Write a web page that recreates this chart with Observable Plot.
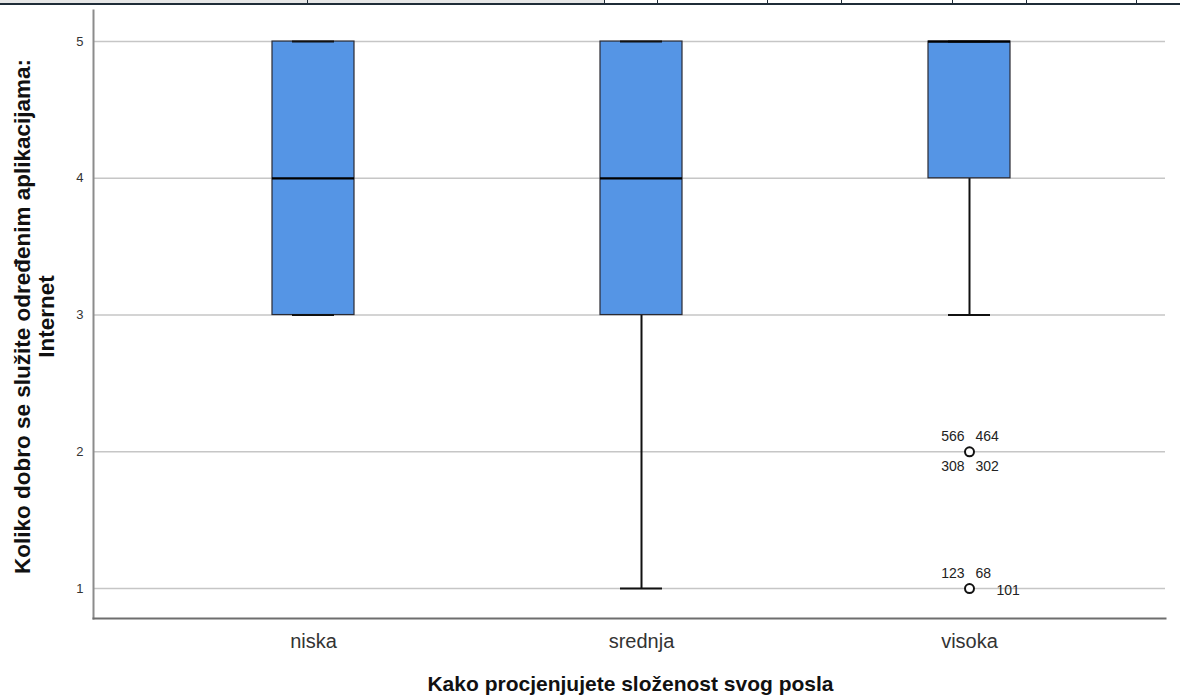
<!DOCTYPE html>
<html>
<head>
<meta charset="utf-8">
<script src="https://cdn.jsdelivr.net/npm/d3@7"></script>
<script src="https://cdn.jsdelivr.net/npm/@observablehq/plot@0.6"></script>
<style>
  html, body { margin: 0; padding: 0; background: #fff; }
  body { font-family: "Liberation Sans", Arial, sans-serif; position: relative; width: 1180px; height: 699px; overflow: hidden; }
  #strip { position: absolute; left: 0; top: 0; width: 1180px; height: 3px; border-bottom: 2px solid #1f2c38; }
  #strip .gray { position: absolute; left: 0; top: 0; width: 604px; height: 3px; background: #e6e6e6; }
  #strip .sep { position: absolute; top: 0; width: 1px; height: 3px; background: #1f2c38; }
  #chart { position: absolute; left: 0; top: 0; }
</style>
</head>
<body>
<div id="chart"></div>
<div id="strip"><div class="gray"></div></div>
<script>
// ---- data ----
const groups = ["niska", "srednja", "visoka"];
const q1 = [3, 3, 4];
const medians = [4, 4, 5];
const q3 = [5, 5, 5];
const whiskerLow = [3, 1, 3];
const whiskerHigh = [5, 5, 5];
const outlierGroups = ["visoka", "visoka"];
const outlierValues = [2, 1];
const labelIds = ["566", "464", "308", "302", "123", "68", "101"];
const labelValues = [2, 2, 2, 2, 1, 1, 1];
const labelPlaces = ["nw", "ne", "sw", "se", "nw", "ne", "e"];
const yTicks = [1, 2, 3, 4, 5];
const xTitle = "Kako procjenjujete složenost svog posla";
const yTitle = "Koliko dobro se služite određenim aplikacijama:\nInternet";
const stripSeparators = [307, 604, 657, 767, 841, 952, 1026, 1136];

// decorative cropped-table strip at top
const strip = document.getElementById("strip");
stripSeparators.forEach(x => {
  const d = document.createElement("div");
  d.className = "sep"; d.style.left = x + "px"; strip.appendChild(d);
});

const boxes = groups.map((g, i) => ({
  group: g, q1: q1[i], median: medians[i], q3: q3[i], lo: whiskerLow[i], hi: whiskerHigh[i]
}));
const outliers = outlierGroups.map((g, i) => ({group: g, value: outlierValues[i]}));
const labels = labelIds.map((id, i) => ({group: "visoka", value: labelValues[i], id, place: labelPlaces[i]}));

const placeStyle = {
  nw: {dx: -5, dy: -15, textAnchor: "end"},
  ne: {dx: 6, dy: -15, textAnchor: "start"},
  sw: {dx: -5, dy: 15, textAnchor: "end"},
  se: {dx: 6, dy: 15, textAnchor: "start"},
  e: {dx: 27, dy: 2, textAnchor: "start"}
};

const labelMarks = Object.entries(placeStyle).map(([p, s]) =>
  Plot.text(labels.filter(d => d.place === p), {
    x: "group", y: "value", text: "id",
    dx: s.dx, dy: s.dy, textAnchor: s.textAnchor,
    fontSize: 14, fill: "#222"
  })
);

const plot = Plot.plot({
  width: 1180,
  height: 699,
  marginTop: 10,
  marginBottom: 81,
  marginLeft: 93,
  marginRight: 15,
  insetLeft: 55,
  insetRight: 31,
  style: {fontFamily: "'Liberation Sans', Arial, sans-serif", background: "#fff"},
  x: {type: "band", domain: groups, paddingInner: 0.749, paddingOuter: 0.3745, axis: null},
  y: {domain: [0.781, 5.227], axis: null},
  marks: [
    Plot.ruleY(yTicks, {stroke: "#c6c6c6", strokeWidth: 1.4}),
    Plot.frame({anchor: "left", stroke: "#8c8c8c", strokeWidth: 2}),
    Plot.frame({anchor: "bottom", stroke: "#6e6e6e", strokeWidth: 2}),
    Plot.axisY(yTicks, {tickSize: 0, tickPadding: 10, fontSize: 13, fill: "#333", label: null, tickFormat: d3.format("d")}),
    Plot.axisX(groups, {tickSize: 0, tickPadding: 15, fontSize: 20, fill: "#333", label: null}),
    Plot.ruleX(boxes, {x: "group", y1: "lo", y2: "q1", stroke: "#111", strokeWidth: 2}),
    Plot.ruleX(boxes, {x: "group", y1: "q3", y2: "hi", stroke: "#111", strokeWidth: 2}),
    Plot.barY(boxes, {x: "group", y1: "q1", y2: "q3", fill: "#5595e5", stroke: "#2a2a33", strokeWidth: 1.2}),
    Plot.tickY(boxes, {x: "group", y: "lo", insetLeft: 20, insetRight: 20, stroke: "#111", strokeWidth: 2}),
    Plot.tickY(boxes, {x: "group", y: "hi", insetLeft: 20, insetRight: 20, stroke: "#111", strokeWidth: 2}),
    Plot.tickY(boxes, {x: "group", y: "median", stroke: "#000", strokeWidth: 2.2}),
    Plot.dot(outliers, {x: "group", y: "value", r: 4.5, stroke: "#111", strokeWidth: 2, fill: "#fff"}),
    ...labelMarks,
    Plot.text([xTitle], {frameAnchor: "bottom", dy: 72, dx: 1, fontSize: 21, fontWeight: "bold", fill: "#111", text: d => d}),
    Plot.text([yTitle], {frameAnchor: "left", dx: -59, dy: 2, rotate: -90, textAnchor: "middle", fontSize: 22.5, fontWeight: "bold", fill: "#111", lineHeight: 1.07, text: d => d})
  ]
});
document.getElementById("chart").appendChild(plot);
</script>
</body>
</html>
